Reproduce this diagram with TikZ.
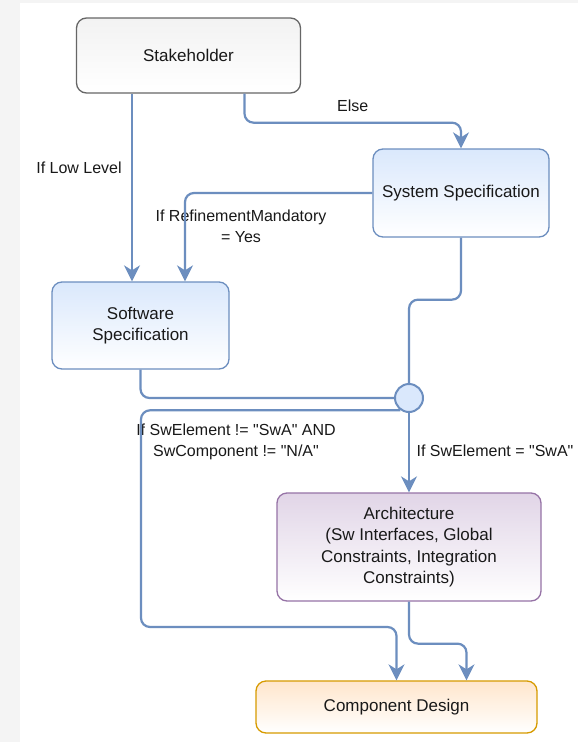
\documentclass[tikz,border=0pt]{standalone}
\usepackage{fontspec}
\setmainfont{Liberation Sans}[Ligatures=TeXOff]
\usepackage{tikz}
\usetikzlibrary{positioning, arrows.meta}

\definecolor{flowblue}{HTML}{6C8EBF}
\definecolor{specfill}{HTML}{DAE8FC}
\definecolor{stakefill}{HTML}{F2F2F2}
\definecolor{stakeline}{HTML}{666666}
\definecolor{archfill}{HTML}{E1D5E7}
\definecolor{archline}{HTML}{9673A6}
\definecolor{compfill}{HTML}{FFE6CC}
\definecolor{compline}{HTML}{D79B00}
\definecolor{pagegray}{HTML}{F4F4F4}

\begin{document}
\begin{tikzpicture}[x=1pt, y=-1pt,
			box/.style={draw, rectangle, rounded corners=10pt, align=center, inner sep=0pt, line width=1.3pt, text=black!90, font=\fontsize{17}{21.5}\selectfont, bottom color=white},
			hubnode/.style={draw=flowblue, fill=specfill, circle, minimum size=28pt, inner sep=0pt, line width=2pt},
			link/.style={draw=flowblue, line width=2.2pt, rounded corners=9pt},
			flow/.style={link, -{Stealth[length=16pt, width=16pt, inset=5pt]}},
			lbl/.style={align=center, text=black!90, font=\fontsize{16}{21}\selectfont, inner sep=0pt}
			]
			
			% Fundo da pagina
			\fill[pagegray] (0,0) rectangle (578,742);
			\fill[white] (20,3) rectangle (578,742);
			\useasboundingbox (0,0) rectangle (578,742);
			
			% Caixas
			\node[box, draw=stakeline, top color=stakefill, minimum width=224pt, minimum height=75pt] (stake) at (188.5,55.5) {Stakeholder};
			\node[box, draw=flowblue, top color=specfill, minimum width=176pt, minimum height=88pt] (sysspec) at (461,193) {System Specification};
			\node[box, draw=flowblue, top color=specfill, minimum width=177pt, minimum height=87pt] (swspec) at (140.5,325.5) {Software\\Specification};
			\node[hubnode] (hub) at (409,398) {};
			\node[box, draw=archline, top color=archfill, minimum width=264pt, minimum height=108pt] (arch) at (409,547) {Architecture\\(Sw Interfaces, Global\\Constraints, Integration\\Constraints)};
			\node[box, draw=compline, top color=compfill, minimum width=281pt, minimum height=52pt] (compdes) at (396.5,707) {Component Design};
			
			\coordinate (bendL) at (141,627);
			
			% Rotulos
			\node[lbl] (lowlbl) at (79,168) {If Low Level};
			\node[lbl] (refinelbl) at (241,226) {If RefinementMandatory\\= Yes};
			\node[lbl] (notswalbl) at (236,442) {If SwElement != "SwA" AND\\SwComponent != "N/A"};
			\node[lbl] (swalbl) at (495,451) {If SwElement = "SwA"};
			
			% Conexoes
			\draw[flow] ([xshift=-56.5pt]stake.south) -- ([xshift=-56.5pt]stake.south |- swspec.north);
			\draw[flow] ([xshift=56pt]stake.south) -- ++(0,29) -| node[pos=0.25, above=10pt, lbl] {Else} (sysspec.north);
			\draw[flow] (sysspec.west) -| ([xshift=44.5pt]swspec.north);
			\draw[link] (sysspec.south) -- ++(0,62) -| (hub.north);
			\draw[link] (swspec.south) |- (hub.west);
			\draw[flow] (hub.235) -| (bendL) -| (compdes.north);
			\draw[flow] (hub.south) -- (arch.north);
			\draw[flow] (arch.south) -- ++(0,42) -| ([xshift=70pt]compdes.north);
			
		\end{tikzpicture}
\end{document}
